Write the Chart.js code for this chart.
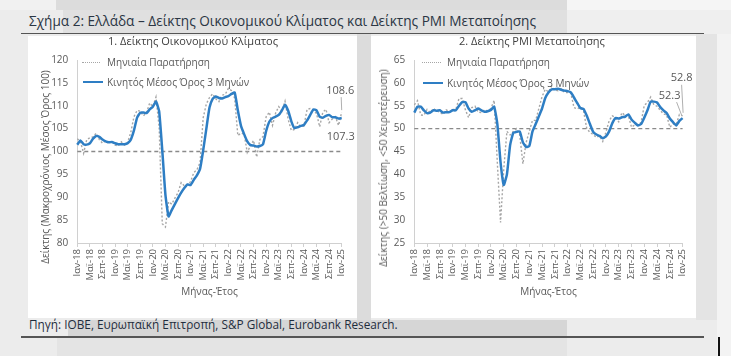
<!DOCTYPE html>
<html><head><meta charset="utf-8">
<script src="https://cdn.jsdelivr.net/npm/chart.js@4.4.1/dist/chart.umd.min.js"></script>
<style>
html,body{margin:0;padding:0;}
body{width:731px;height:356px;position:relative;overflow:hidden;background:#ececec;font-family:'Open Sans',sans-serif;}
.r{position:absolute;}
.panel{position:absolute;background:#fff;}
.t{position:absolute;white-space:nowrap;color:#595959;line-height:1;}
canvas{position:absolute;}
.sw{position:absolute;height:0;}
</style>
</head><body>
<div class="r" style="left:0;top:0;width:56px;height:10px;background:#f1f1f1"></div>
<div class="r" style="left:56px;top:0;width:511px;height:10px;background:#dcdcdc"></div>
<div class="r" style="left:567px;top:0;width:164px;height:10px;background:#f5f5f5"></div>
<div class="r" style="left:63px;top:10px;width:504px;height:24px;background:#e0e0e0"></div>
<div class="r" style="left:567px;top:10px;width:164px;height:24px;background:#efefef"></div>
<div class="r" style="left:357px;top:34px;width:14px;height:286px;background:#dcdcdc"></div>
<div class="r" style="left:696px;top:34px;width:21px;height:286px;background:#e4e4e4"></div>
<div class="r" style="left:717px;top:34px;width:14px;height:322px;background:#f3f3f3"></div>
<div class="t" style="left:29px;top:14px;font-size:13.6px;color:#2b3644">Σχήμα 2: Ελλάδα – Δείκτης Οικονομικού Κλίματος και Δείκτης PMI Μεταποίησης</div>
<div class="r" style="left:21px;top:33px;width:683px;height:1px;background:#555"></div>

<div class="panel" style="left:28px;top:36px;width:329px;height:282px"></div>
<div class="panel" style="left:371px;top:36px;width:325px;height:282px"></div>
<div class="r" style="left:68px;top:320px;width:499px;height:16px;background:#d6d6d6"></div>
<div class="t" style="left:29px;top:319px;font-size:11.8px;color:#1f2d3d">Πηγή: IOBE, Ευρωπαϊκή Επιτροπή, S&amp;P Global, Eurobank Research.</div>
<div class="r" style="left:21px;top:336px;width:683px;height:2px;background:#555"></div>
<div class="r" style="left:57px;top:338px;width:510px;height:18px;background:#e4e4e4"></div>
<div class="r" style="left:718px;top:337px;width:2px;height:19px;background:#111"></div>

<canvas id="c1" width="329" height="282" style="left:28px;top:36px"></canvas>
<canvas id="c2" width="325" height="282" style="left:371px;top:36px"></canvas>

<div class="t" style="left:193px;top:35px;font-size:11px;transform:translateX(-50%);color:#404040">1. Δείκτης Οικονομικού Κλίματος</div>
<div class="t" style="left:532px;top:35px;font-size:11px;transform:translateX(-50%);color:#404040">2. Δείκτης PMI Μεταποίησης</div>

<div class="t" style="left:45px;top:167px;font-size:10px;transform:translate(-50%,-50%) rotate(-90deg)">Δείκτης (Μακροχρόνιος Μέσος Όρος 100)</div>
<div class="t" style="left:383px;top:168px;font-size:10px;transform:translate(-50%,-50%) rotate(-90deg)">Δείκτης (&gt;50 Βελτίωση, &lt;50 Χειροτέρευση)</div>

<div class="sw" style="left:82px;top:62px;width:18px;border-top:1.5px dotted #a6a6a6"></div>
<div class="t" style="left:107px;top:57px;font-size:10px">Μηνιαία Παρατήρηση</div>
<div class="sw" style="left:83px;top:81px;width:20px;border-top:2.5px solid #2E7EC4"></div>
<div class="t" style="left:107px;top:77px;font-size:10px">Κινητός Μέσος Όρος 3 Μηνών</div>

<div class="sw" style="left:422px;top:62px;width:19px;border-top:1.5px dotted #a6a6a6"></div>
<div class="t" style="left:447px;top:57px;font-size:10px">Μηνιαία Παρατήρηση</div>
<div class="sw" style="left:423px;top:82px;width:20px;border-top:2.5px solid #2E7EC4"></div>
<div class="t" style="left:447px;top:78px;font-size:10px">Κινητός Μέσος Όρος 3 Μηνών</div>

<script>
// ---- data ----
const monthNames = ['Ιαν','Φεβ','Μαρ','Απρ','Μαϊ','Ιουν','Ιουλ','Αυγ','Σεπ','Οκτ','Νοε','Δεκ'];
const years = ['18','19','20','21','22','23','24','25'];
const categories = [];
for (const y of years) for (const m of monthNames) { if (categories.length < 85) categories.push(m + '-' + y); }
const tickEvery = 4;

// Economic Sentiment Indicator (monthly, and 3-month moving average)
const esiMonthly = [102.8,102.2,99.6,102.6,103.0,103.2,104.0,102.6,101.8,102.4,101.7,102.3,
  101.4,101.2,102.1,101.4,102.0,104.2,107.6,109.0,108.8,107.8,108.5,110.6,
  109.8,111.9,105.3,84.2,83.5,89.0,88.5,89.8,91.0,93.2,92.5,92.8,
  93.4,95.4,96.0,97.6,107.4,110.4,111.8,112.6,111.5,110.9,112.3,112.5,
  113.8,113.3,111.6,103.5,104.0,103.8,99.8,101.3,102.4,98.8,102.6,103.3,
  107.6,108.6,105.7,108.4,109.8,108.8,111.0,107.0,104.6,104.8,106.3,105.4,
  105.6,109.2,109.4,109.1,108.3,105.4,108.6,109.2,106.3,107.1,107.6,105.7,108.6];
const esiMA = [101.5,102.4,101.6,101.5,101.8,102.8,103.4,103.2,102.6,102.2,102.0,102.1,
  101.8,101.6,101.6,101.6,101.8,102.6,104.6,107.4,108.5,108.5,108.4,109.2,
  109.8,110.9,108.8,100.2,90.5,85.8,87.2,88.5,89.8,91.0,92.0,92.8,
  92.7,93.8,94.8,96.2,100.3,105.0,109.6,111.5,112.0,111.7,111.6,111.9,
  112.1,112.6,112.9,109.0,105.6,103.8,102.2,101.4,101.3,101.1,101.2,101.6,
  104.5,106.5,107.3,107.6,108.0,109.0,110.2,108.9,106.6,105.1,105.3,105.6,
  105.8,106.8,108.0,109.2,109.0,107.6,107.4,107.8,108.0,107.5,107.5,107.2,107.3];

// Manufacturing PMI (monthly, and 3-month moving average)
const pmiMonthly = [55.2,56.1,53.0,52.9,54.2,53.5,54.4,53.9,53.6,53.1,54.1,53.7,
  54.2,54.2,56.6,56.6,54.1,52.4,54.6,54.9,53.6,53.5,54.1,53.9,
  54.4,56.2,42.5,29.5,41.1,49.4,48.6,49.4,50.0,48.7,42.3,46.9,
  49.4,51.8,51.8,54.4,57.0,58.6,58.0,59.3,58.4,58.3,58.7,57.9,
  57.9,57.8,54.6,54.3,54.7,53.8,50.0,49.2,48.7,48.1,48.4,47.2,
  49.2,51.7,52.8,52.4,51.5,53.5,52.9,52.9,50.3,50.8,50.9,51.3,
  55.1,55.7,56.9,55.2,54.9,54.0,53.2,53.0,50.3,51.0,50.9,53.1,52.8];
const pmiMA = [53.5,54.8,54.8,54.0,53.4,53.5,54.0,53.9,54.0,53.5,53.6,53.6,
  54.0,54.0,55.0,55.8,55.8,54.4,53.7,54.0,54.4,54.0,53.7,53.8,
  54.1,54.8,51.0,42.7,37.7,40.0,46.4,49.1,49.3,49.4,47.0,46.0,
  46.2,49.4,51.0,52.7,54.4,56.7,57.9,58.6,58.6,58.7,58.5,58.3,
  58.2,57.9,56.8,55.6,54.5,54.3,52.8,51.0,49.3,48.7,48.4,47.9,
  48.3,49.4,51.2,52.3,52.2,52.5,52.6,53.1,52.0,51.3,50.7,51.0,
  52.4,54.0,55.9,55.9,55.7,54.7,54.0,53.4,52.2,51.4,50.7,51.7,52.3];

const esiBaseline = 100;
const pmiBaseline = 50;
const esiTicks = [80, 120, 5];
const pmiTicks = [25, 65, 5];

// ---- styling ----
Chart.defaults.font.family = "'Open Sans', sans-serif";
Chart.defaults.color = '#595959';
const blue = '#2E7EC4';
const dotted = '#a6a6a6';

const refLine = {
  id: 'refLine',
  beforeDatasetsDraw(chart, args, o) {
    const y = chart.scales.y.getPixelForValue(o.value);
    const {left, right} = chart.chartArea;
    const ctx = chart.ctx;
    ctx.save();
    ctx.strokeStyle = '#8a8a8a'; ctx.lineWidth = 1.3; ctx.setLineDash([4, 3]);
    ctx.beginPath(); ctx.moveTo(left, y); ctx.lineTo(right, y); ctx.stroke();
    ctx.restore();
  }
};
const endLabels = {
  id: 'endLabels',
  afterDatasetsDraw(chart, args, o) {
    const ctx = chart.ctx;
    ctx.save();
    ctx.font = "11px 'Open Sans', sans-serif";
    ctx.fillStyle = '#595959';
    ctx.textAlign = 'center'; ctx.textBaseline = 'middle';
    for (const l of o.items) {
      const pt = chart.getDatasetMeta(l.ds).data[l.idx];
      const tx = pt.x + l.dx, ty = pt.y + l.dy;
      ctx.fillText(l.text, tx, ty);
      if (l.line) {
        ctx.strokeStyle = '#9a9a9a'; ctx.lineWidth = 0.8;
        ctx.beginPath(); ctx.moveTo(tx + l.line[0], ty + l.line[1]); ctx.lineTo(pt.x + l.line[2], pt.y + l.line[3]); ctx.stroke();
      }
    }
    ctx.restore();
  }
};

function makeChart(id, monthly, ma, ticks, baseline, pad, yWidth, labels) {
  return new Chart(document.getElementById(id), {
    type: 'line',
    data: {
      labels: categories,
      datasets: [
        {label: 'Μηνιαία Παρατήρηση', data: monthly, borderColor: dotted, borderWidth: 1.4, borderDash: [2, 2], pointRadius: 0, order: 2, tension: 0},
        {label: 'Κινητός Μέσος Όρος 3 Μηνών', data: ma, borderColor: blue, borderWidth: 2.5, pointRadius: 0, order: 1, tension: 0.15}
      ]
    },
    options: {
      responsive: false, animation: false,
      layout: {padding: pad},
      plugins: {legend: {display: false}, tooltip: {enabled: false},
        refLine: {value: baseline}, endLabels: {items: labels}},
      scales: {
        x: {
          grid: {drawOnChartArea: false, color: '#d0d0d0', tickLength: 4},
          border: {color: '#d0d0d0'},
          ticks: {autoSkip: false, maxRotation: 90, minRotation: 90, padding: 2, font: {size: 9.5},
            callback: function(v, i) { return i % tickEvery === 0 ? this.getLabelForValue(v) : null; }},
          title: {display: true, text: 'Μήνας-Έτος', font: {size: 10}, padding: {top: 0, bottom: 0}},
          afterFit(s) { s.height = 55; }
        },
        y: {
          min: ticks[0], max: ticks[1],
          grid: {drawOnChartArea: false, drawTicks: false, color: '#d0d0d0'},
          border: {color: '#d0d0d0'},
          ticks: {stepSize: ticks[2], padding: 9, font: {size: 10}},
          afterFit(s) { s.width = yWidth; }
        }
      }
    },
    plugins: [refLine, endLabels]
  });
}

makeChart('c1', esiMonthly, esiMA, esiTicks, esiBaseline,
  {left: 0, right: 15.3, top: 24, bottom: 20}, 49.3,
  [{ds: 0, idx: 84, text: '108.6', dx: -1.5, dy: -21, line: [1, 6, 0, -2]},
   {ds: 1, idx: 84, text: '107.3', dx: -1, dy: 19}]);
makeChart('c2', pmiMonthly, pmiMA, pmiTicks, pmiBaseline,
  {left: 0, right: 13.3, top: 24, bottom: 20}, 43.3,
  [{ds: 0, idx: 84, text: '52.8', dx: -1, dy: -38, line: [0, 7, 0.5, -3]},
   {ds: 1, idx: 84, text: '52.3', dx: -13, dy: -22, line: [7, 6, -1, -3]}]);
</script>
</body></html>
